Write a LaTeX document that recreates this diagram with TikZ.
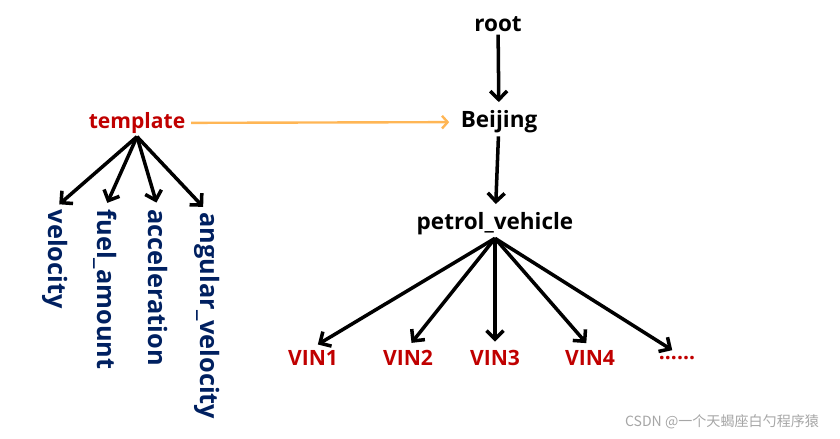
\documentclass[tikz,border=0pt]{standalone}
\usepackage{fontspec}
\setmainfont{Open Sans}
\newfontfamily\cjkfont{Noto Sans CJK SC}
\usetikzlibrary{arrows.meta}
\definecolor{vinred}{RGB}{192,0,0}
\definecolor{attrblue}{RGB}{0,32,96}
\definecolor{linkorange}{RGB}{255,182,85}

\begin{document}
\begin{tikzpicture}[
    x=0.025cm, y=-0.025cm,
    level/.style={font=\fontsize{16}{19}\selectfont\bfseries, text=black, inner sep=2pt},
    tmpl/.style={level, font=\fontsize{15}{18}\selectfont\bfseries, text=vinred},
    vin/.style={font=\fontsize{15}{18}\selectfont\bfseries, text=vinred, inner sep=2pt},
    attr/.style={font=\fontsize{18}{21}\selectfont\bfseries, text=attrblue, rotate=-90, anchor=west, inner sep=1pt},
    arrow/.style={-{Straight Barb[length=6pt,width=12pt]}, line width=2.5pt, shorten >=4pt},
    link/.style={-{Straight Barb[length=4pt,width=9pt]}, line width=1.7pt, linkorange, shorten <=2pt, shorten >=6pt},
    watermark/.style={font=\cjkfont\fontsize{10}{12}\selectfont, text=black!35}
]
\useasboundingbox (0,0) rectangle (840,439);

% Tree
\node[level] (root) at (498, 24) {root};
\node[level] (beijing) at (499, 122) {Beijing};
\node[level] (petrol) at (495, 224) {petrol\_vehicle};

\draw[arrow] (root) -- (beijing);
\draw[arrow] (beijing) -- (petrol);

% Vehicles
\node[vin] (vin1) at (313, 358) {VIN1};
\node[vin] (vin2) at (408, 358) {VIN2};
\node[vin] (vin3) at (495, 358) {VIN3};
\node[vin] (vin4) at (590, 358) {VIN4};
\node[vin] (more) at (677, 358) {......};

\foreach \v in {vin1,vin2,vin3,vin4,more}
    \draw[arrow] (petrol.south) -- (\v.north);

% Template
\node[tmpl] (template) at (137, 123) {template};
\draw[link] (template) -- (beijing);

\node[attr] (vel) at (55, 208) {velocity};
\node[attr] (fuel) at (105, 208) {fuel\_amount};
\node[attr] (acc) at (158, 208) {acceleration};
\node[attr] (ang) at (207, 211) {angular\_velocity};

\foreach \a in {vel,fuel,acc,ang}
    \draw[arrow] (template.south) -- (\a.west);

% Watermark
\node[watermark] (wm) at (722, 422) {CSDN @一个天蝎座白勺程序猿};

\end{tikzpicture}
\end{document}
